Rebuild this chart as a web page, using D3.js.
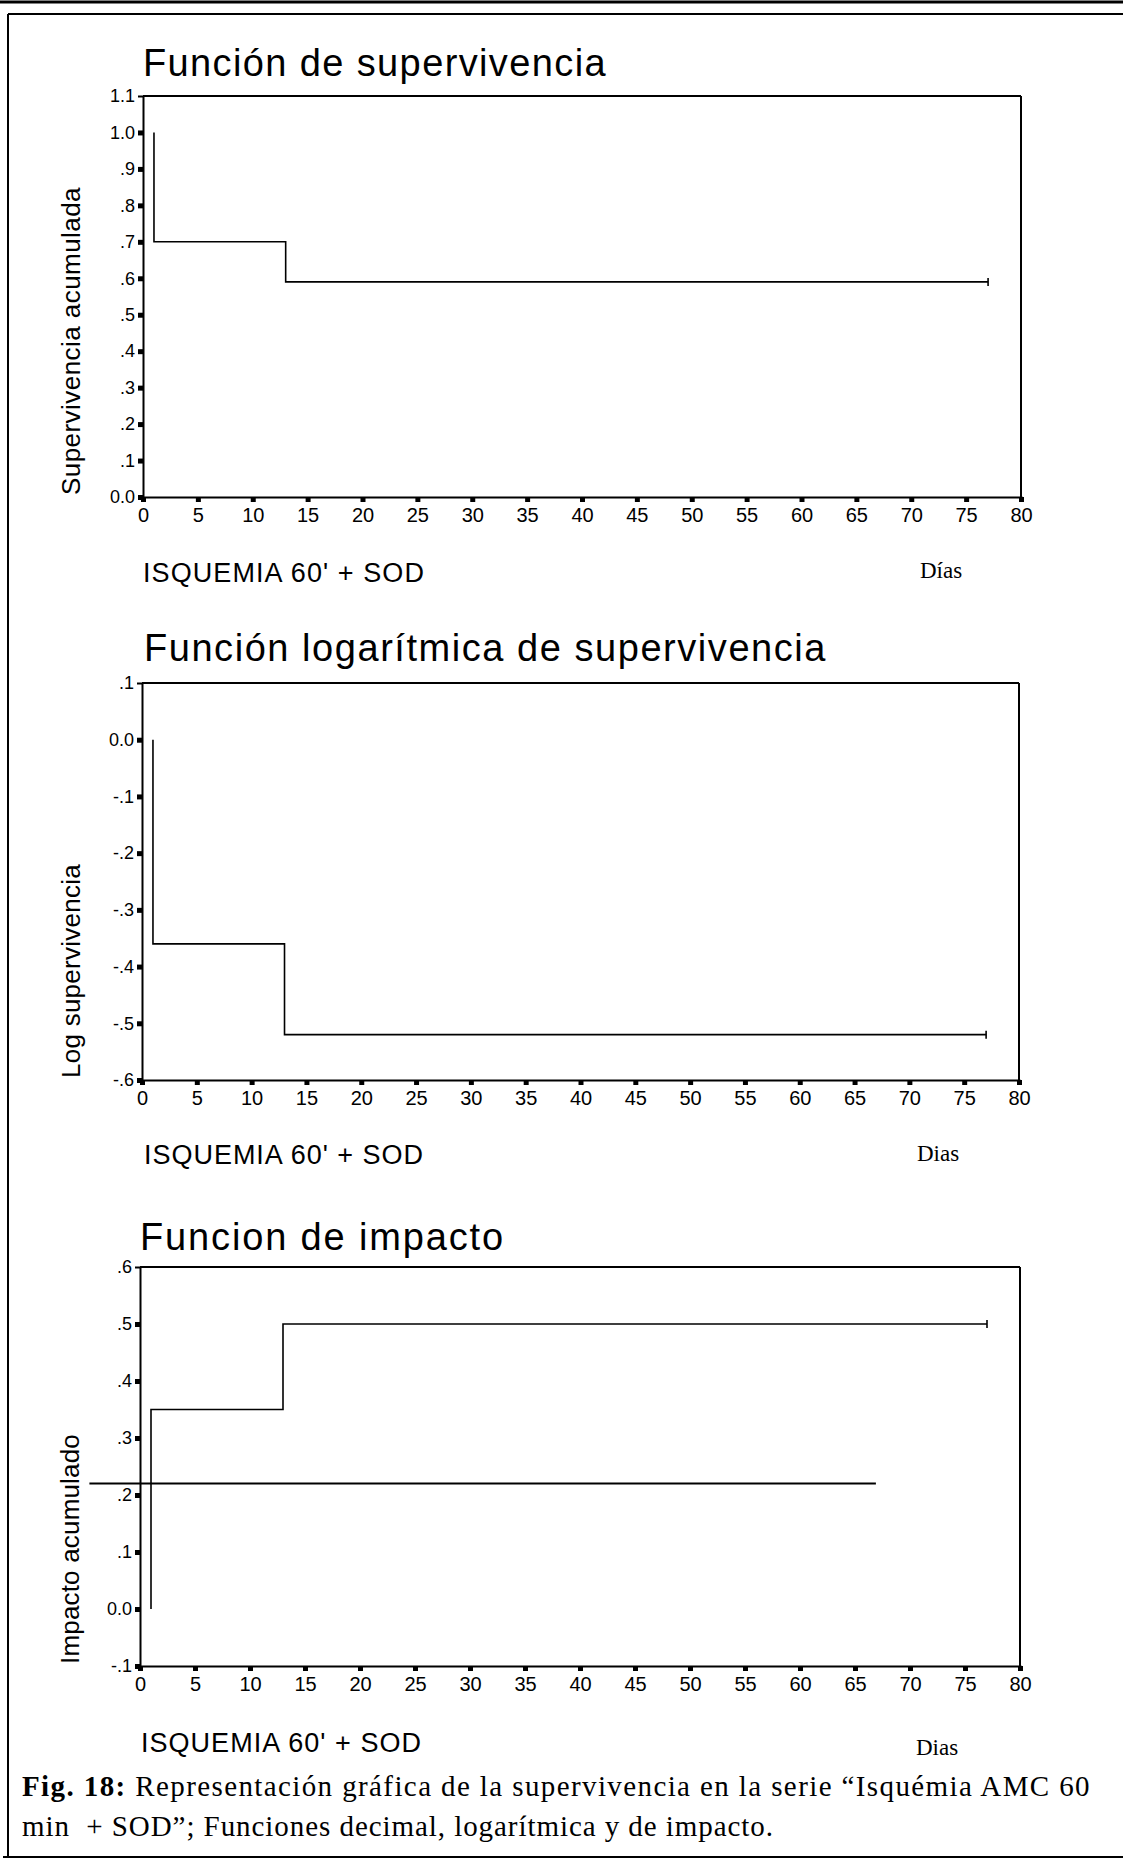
<!DOCTYPE html>
<html>
<head>
<meta charset="utf-8">
<script src="https://cdn.jsdelivr.net/npm/d3@7"></script>
<style>
  html, body { margin: 0; padding: 0; background: #fff; }
  svg { display: block; }
  .sans { font-family: "Liberation Sans", Arial, Helvetica, sans-serif; }
  .serif { font-family: "Liberation Serif", "Times New Roman", Times, serif; }
</style>
</head>
<body>
<svg id="chart" width="1123" height="1863"></svg>
<script>
// ---------------- DATA ----------------
const eventDays = [1, 1, 13, 13, 77];
const survival = [1.0, 0.70, 0.70, 0.59, 0.59];
const logSurvival = [0.0, -0.36, -0.36, -0.52, -0.52];
const hazard = [0.0, 0.35, 0.35, 0.50, 0.50];
const censorDay = 77;

const refLineDays = [-4.6, 66.9];
const refLineValue = [0.22, 0.22];

const xTickValues = [0, 5, 10, 15, 20, 25, 30, 35, 40, 45, 50, 55, 60, 65, 70, 75, 80];
const xTickLabels = ["0", "5", "10", "15", "20", "25", "30", "35", "40", "45", "50", "55", "60", "65", "70", "75", "80"];

const survTicks = [0.0, 0.1, 0.2, 0.3, 0.4, 0.5, 0.6, 0.7, 0.8, 0.9, 1.0, 1.1];
const survTickLabels = ["0.0", ".1", ".2", ".3", ".4", ".5", ".6", ".7", ".8", ".9", "1.0", "1.1"];

const logTicks = [-0.6, -0.5, -0.4, -0.3, -0.2, -0.1, 0.0, 0.1];
const logTickLabels = ["-.6", "-.5", "-.4", "-.3", "-.2", "-.1", "0.0", ".1"];

const hazTicks = [-0.1, 0.0, 0.1, 0.2, 0.3, 0.4, 0.5, 0.6];
const hazTickLabels = ["-.1", "0.0", ".1", ".2", ".3", ".4", ".5", ".6"];

const titles = ["Función de supervivencia", "Función logarítmica de supervivencia", "Funcion de impacto"];
const yTitles = ["Supervivencia acumulada", "Log supervivencia", "Impacto acumulado"];
const groupLabel = "ISQUEMIA 60' + SOD";
const xUnitLabels = ["Días", "Dias", "Dias"];
const captionBold = "Fig. 18:";
const captionLine1 = " Representación gráfica de la supervivencia en la serie “Isquémia AMC 60";
const captionLine2 = "min  + SOD”; Funciones decimal, logarítmica y de impacto.";

// ---------------- LAYOUT ----------------
const svg = d3.select("#chart");

function fitWidth(sel, target) {
  const node = sel.node();
  const n = sel.text().length;
  const w = node.getComputedTextLength();
  if (n > 1) sel.attr("letter-spacing", ((target - w) / n).toFixed(3));
}

const panels = [
  { series: survival, ticks: survTicks, labels: survTickLabels, domain: [0, 1.1],
    x0: 143, x1: 1021, yTop: 96, yBot: 497,
    title: { x: 143, y: 76, w: 464 }, yTitle: { x: 80, w: 308 },
    group: { x: 143, y: 582, w: 282 }, unit: { x: 920, y: 578 } },
  { series: logSurvival, ticks: logTicks, labels: logTickLabels, domain: [-0.6, 0.1],
    x0: 142, x1: 1019, yTop: 683, yBot: 1080,
    title: { x: 144, y: 661, w: 683 }, yTitle: { x: 80, w: 214 },
    group: { x: 144, y: 1164, w: 280 }, unit: { x: 917, y: 1161 } },
  { series: hazard, ticks: hazTicks, labels: hazTickLabels, domain: [-0.1, 0.6],
    x0: 140, x1: 1020, yTop: 1267, yBot: 1666,
    title: { x: 140, y: 1250, w: 365 }, yTitle: { x: 79, w: 230 },
    group: { x: 141, y: 1752, w: 281 }, unit: { x: 916, y: 1755 }, refLine: true }
];

panels.forEach((p, i) => {
  const x = d3.scaleLinear().domain([0, 80]).range([p.x0, p.x1]);
  const y = d3.scaleLinear().domain(p.domain).range([p.yBot, p.yTop]);
  const g = svg.append("g");

  // title
  const t = g.append("text").attr("class", "sans")
    .attr("x", p.title.x).attr("y", p.title.y)
    .attr("font-size", 38).attr("fill", "#000").text(titles[i]);
  fitWidth(t, p.title.w);

  // frame: top and right
  g.append("line").attr("x1", p.x0).attr("x2", p.x1).attr("y1", p.yTop).attr("y2", p.yTop)
    .attr("stroke", "#000").attr("stroke-width", 2);
  g.append("line").attr("x1", p.x1).attr("x2", p.x1).attr("y1", p.yTop).attr("y2", p.yBot)
    .attr("stroke", "#000").attr("stroke-width", 2);

  // y axis
  const yAxis = d3.axisLeft(y).tickValues(p.ticks)
    .tickFormat((d, k) => p.labels[k]).tickSize(5).tickPadding(3);
  const ya = g.append("g").attr("transform", `translate(${p.x0},0)`).call(yAxis);
  ya.select(".domain").attr("stroke", "#000").attr("stroke-width", 2);
  ya.selectAll(".tick line").attr("stroke", "#000")
    .attr("stroke-width", (d, k) => k === p.ticks.length - 1 ? 1 : 5);
  ya.selectAll(".tick text").attr("font-size", 18).attr("fill", "#000")
    .attr("font-family", "Liberation Sans, Arial, sans-serif");

  // x axis
  const xAxis = d3.axisBottom(x).tickValues(xTickValues)
    .tickFormat((d, k) => xTickLabels[k]).tickSize(5).tickPadding(6);
  const xa = g.append("g").attr("transform", `translate(0,${p.yBot})`).call(xAxis);
  xa.select(".domain").attr("stroke", "#000").attr("stroke-width", 2);
  xa.selectAll(".tick line").attr("stroke", "#000").attr("stroke-width", 5);
  xa.selectAll(".tick text").attr("font-size", 20).attr("fill", "#000")
    .attr("font-family", "Liberation Sans, Arial, sans-serif");

  // y title (rotated)
  const yt = g.append("text").attr("class", "sans")
    .attr("transform", `translate(${p.yTitle.x},${p.yBot - 2}) rotate(-90)`)
    .attr("text-anchor", "start").attr("font-size", 26).attr("fill", "#000")
    .text(yTitles[i]);
  fitWidth(yt, p.yTitle.w);

  // step line
  const pts = eventDays.map((d, k) => [d, p.series[k]]);
  const line = d3.line().x(d => x(d[0])).y(d => y(d[1]));
  g.append("path").attr("d", line(pts)).attr("fill", "none")
    .attr("stroke", "#000").attr("stroke-width", 1.6);

  // censor mark
  const lastVal = p.series[p.series.length - 1];
  g.append("line").attr("x1", x(censorDay)).attr("x2", x(censorDay))
    .attr("y1", y(lastVal) - 4).attr("y2", y(lastVal) + 4)
    .attr("stroke", "#000").attr("stroke-width", 1.6);

  // reference line (impact chart)
  if (p.refLine) {
    const rl = refLineDays.map((d, k) => [d, refLineValue[k]]);
    g.append("path").attr("d", line(rl)).attr("fill", "none")
      .attr("stroke", "#000").attr("stroke-width", 2);
  }

  // group label
  const gl = g.append("text").attr("class", "sans")
    .attr("x", p.group.x).attr("y", p.group.y)
    .attr("font-size", 27).attr("fill", "#000").text(groupLabel);
  fitWidth(gl, p.group.w);

  // unit label
  g.append("text").attr("class", "serif")
    .attr("x", p.unit.x).attr("y", p.unit.y)
    .attr("font-size", 23).attr("fill", "#000").text(xUnitLabels[i]);
});

// page frame
svg.append("line").attr("x1", 0).attr("x2", 1123).attr("y1", 2).attr("y2", 2)
  .attr("stroke", "#000").attr("stroke-width", 3);
svg.append("line").attr("x1", 8).attr("x2", 1123).attr("y1", 14).attr("y2", 14)
  .attr("stroke", "#000").attr("stroke-width", 2);
svg.append("line").attr("x1", 8).attr("x2", 8).attr("y1", 14).attr("y2", 1857)
  .attr("stroke", "#000").attr("stroke-width", 2);
svg.append("line").attr("x1", 3).attr("x2", 1123).attr("y1", 1857).attr("y2", 1857)
  .attr("stroke", "#000").attr("stroke-width", 2);

// caption
const c1 = svg.append("text").attr("class", "serif")
  .attr("x", 22).attr("y", 1796).attr("font-size", 29).attr("fill", "#000");
c1.append("tspan").attr("font-weight", "bold").text(captionBold);
c1.append("tspan").text(captionLine1);
fitWidth(c1, 1069);

const c2 = svg.append("text").attr("class", "serif")
  .attr("x", 22).attr("y", 1836).attr("font-size", 29).attr("fill", "#000")
  .style("white-space", "pre").text(captionLine2);
fitWidth(c2, 752);
</script>
</body>
</html>
